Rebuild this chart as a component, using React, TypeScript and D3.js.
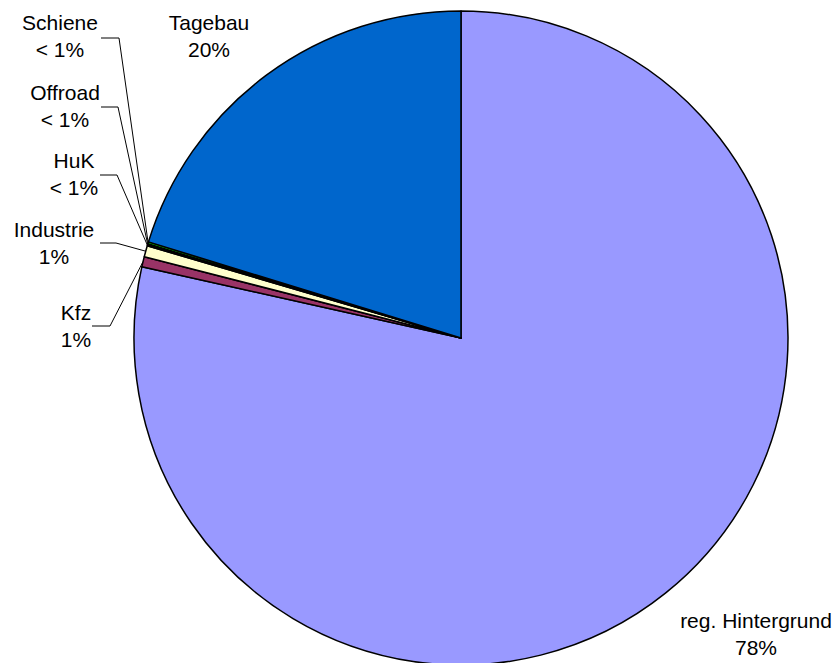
import React from 'react';
import * as d3 from 'd3';

// Anteile in Prozent (im Uhrzeigersinn ab 12 Uhr)
const categories = ['reg. Hintergrund', 'Kfz', 'Industrie', 'HuK', 'Offroad', 'Schiene', 'Tagebau'];
const shares = [78.5, 0.5, 0.55, 0.05, 0.05, 0.1, 20.25];
const shareLabels = ['78%', '1%', '1%', '< 1%', '< 1%', '< 1%', '20%'];
const colors = ['#9999FF', '#993366', '#FFFFCC', '#333399', '#FF8080', '#00FF00', '#0066CC'];

const W = 837;
const H = 663;
const cx = 461;
const cy = 338;
const R = 327;

// label block centre x, first baseline, optional leader (elbow)
const labelPos: Record<string, { x: number; y: number; lineY?: number; x0?: number; x1?: number }> = {
  'reg. Hintergrund': { x: 756, y: 628 },
  Tagebau: { x: 209, y: 30 },
  Schiene: { x: 60, y: 30, lineY: 38, x0: 101, x1: 119 },
  Offroad: { x: 65, y: 100, lineY: 107, x0: 101, x1: 118 },
  HuK: { x: 74, y: 168, lineY: 175, x0: 100, x1: 117 },
  Industrie: { x: 54, y: 237, lineY: 243, x0: 100, x1: 116 },
  Kfz: { x: 76, y: 320, lineY: 326, x0: 92, x1: 110 },
};

export default function App() {
  const pie = d3.pie<number>().sort(null).value((d) => d);
  const arcs = pie(shares);
  const arc = d3.arc<d3.PieArcDatum<number>>().innerRadius(0).outerRadius(R);

  return (
    <svg width={W} height={H} style={{ position: 'absolute', left: 0, top: 0, background: '#fff' }}
      fontFamily="'Liberation Sans', Arial, sans-serif">
      <g transform={`translate(${cx},${cy})`}>
        {arcs.map((a, i) => (
          <path key={categories[i]} d={arc(a) || ''} fill={colors[i]} stroke="#000" strokeWidth={1.5}
            strokeLinejoin="round" />
        ))}
      </g>
      {arcs.map((a, i) => {
        const name = categories[i];
        const p = labelPos[name];
        const mid = (a.startAngle + a.endAngle) / 2;
        const px = cx + Math.sin(mid) * R;
        const py = cy - Math.cos(mid) * R;
        return (
          <g key={name}>
            {p.lineY !== undefined && (
              <polyline points={`${p.x0},${p.lineY} ${p.x1},${p.lineY} ${px},${py}`} fill="none"
                stroke="#000" strokeWidth={1} />
            )}
            <text x={p.x} y={p.y} textAnchor="middle" fontSize={21} fill="#000">{name}</text>
            <text x={p.x} y={p.y + 27} textAnchor="middle" fontSize={21} fill="#000">
              {shareLabels[i]}
            </text>
          </g>
        );
      })}
    </svg>
  );
}
